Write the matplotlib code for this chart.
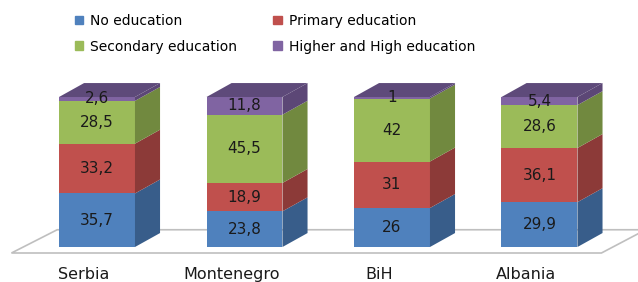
import matplotlib.pyplot as plt
from matplotlib.patches import Polygon, Patch
import numpy as np

countries = ["Serbia", "Montenegro", "BiH", "Albania"]
series = ["No education", "Primary education", "Secondary education", "Higher and High education"]
no_edu = [35.7, 23.8, 26, 29.9]
primary = [33.2, 18.9, 31, 36.1]
secondary = [28.5, 45.5, 42, 28.6]
higher = [2.6, 11.8, 1, 5.4]
labels = [["35,7", "23,8", "26", "29,9"],
          ["33,2", "18,9", "31", "36,1"],
          ["28,5", "45,5", "42", "28,6"],
          ["2,6", "11,8", "1", "5,4"]]

front = ["#4F81BD", "#C0504D", "#9BBB59", "#8064A2"]
side = ["#385D8A", "#8C3A38", "#71893F", "#5C4776"]
top_col = "#5E4A7A"

fig = plt.figure(figsize=(6.38, 2.82), dpi=100)
ax = fig.add_axes([0, 0, 1, 1])
ax.set_xlim(-0.6576, 3.668)
ax.set_ylim(-23.33, 164.67)
ax.axis("off")

width = 0.515
dx = 0.17
dy = 9.3

# floor
floor = Polygon([(-0.58, -4), (3.42, -4), (3.72, 11.5), (-0.27, 11.5)], closed=True,
                facecolor="white", edgecolor="#BFBFBF", lw=1.2, zorder=1)
ax.add_patch(floor)

data = [no_edu, primary, secondary, higher]
x = np.arange(len(countries))
bottom = np.zeros(len(countries))
for k, vals in enumerate(data):
    vals = np.array(vals, dtype=float)
    ax.bar(x, vals, width, bottom=bottom, color=front[k], zorder=2, linewidth=0)
    for i in range(len(countries)):
        xr = x[i] + width / 2
        b = bottom[i]
        t = b + vals[i]
        ax.add_patch(Polygon([(xr, b), (xr + dx, b + dy), (xr + dx, t + dy), (xr, t)],
                             closed=True, facecolor=side[k], lw=0, zorder=2))
        ax.text(x[i], b + vals[i] / 2, labels[k][i], ha="center", va="center",
                fontsize=11, color="#1A1A1A", zorder=4)
    bottom = bottom + vals

for i in range(len(countries)):
    xl = x[i] - width / 2
    xr = x[i] + width / 2
    t = bottom[i]
    ax.add_patch(Polygon([(xl, t), (xr, t), (xr + dx, t + dy), (xl + dx, t + dy)],
                         closed=True, facecolor=top_col, lw=0, zorder=3))
    ax.text(x[i] - 0.09, -18.3, countries[i], ha="center", va="center",
            fontsize=11.5, color="#1A1A1A")

handles = [Patch(color=front[0]), Patch(color=front[2]), Patch(color=front[1]), Patch(color=front[3])]
names = [series[0], series[2], series[1], series[3]]
fig.legend(handles, names, ncol=2, loc="upper left", bbox_to_anchor=(0.098, 0.995),
           frameon=False, fontsize=10, handlelength=0.6, handleheight=0.6,
           handletextpad=0.5, columnspacing=2.6, labelspacing=0.85)

fig.savefig("out.png", dpi=100)
